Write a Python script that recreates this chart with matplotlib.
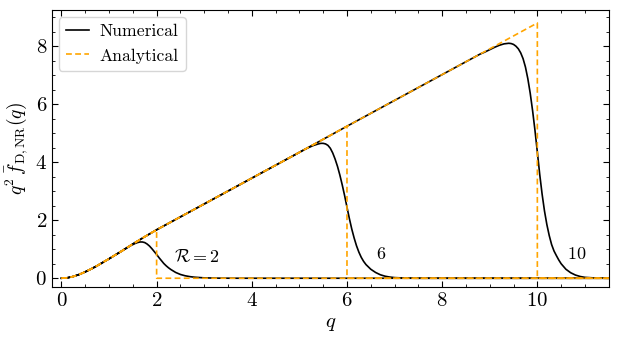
import numpy as np
import matplotlib
matplotlib.use("Agg")
import matplotlib.pyplot as plt
from matplotlib.ticker import MultipleLocator

plt.rcParams["font.family"] = "serif"
plt.rcParams["font.serif"] = ["cmr10", "DejaVu Serif"]
plt.rcParams["mathtext.fontset"] = "cm"
plt.rcParams["axes.formatter.use_mathtext"] = True
plt.rcParams["font.size"] = 15

# analytical envelope (shared rise)
env_q = [0.0, 0.125, 0.25, 0.375, 0.5, 0.625, 0.75, 0.875, 1.0, 1.25, 1.5, 1.75, 2.0,
         4.0, 5.0, 6.0, 8.0, 8.8, 10.0]
env_v = [0.0, 0.015, 0.06, 0.13, 0.22, 0.32, 0.43, 0.55, 0.67, 0.92, 1.18, 1.43, 1.67,
         3.45, 4.34, 5.24, 7.02, 7.73, 8.8]

radii = [2, 6, 10]
radius_labels = [r"$\mathcal{R} = 2$", r"$6$", r"$10$"]
label_q = [2.37, 6.6, 10.62]
label_v = [0.75, 0.83, 0.83]

# numerical curves: departure from envelope and fall-off
tail_q = {
    2: [1.3, 1.4, 1.45, 1.5, 1.55, 1.6, 1.65, 1.7, 1.75, 1.8, 1.85, 1.9, 1.95, 2.0, 2.05,
        2.1, 2.15, 2.2, 2.25, 2.3, 2.4, 2.5, 2.6, 2.7, 2.8, 3.0, 3.3, 3.7, 11.5],
    6: [5.1, 5.2, 5.3, 5.4, 5.45, 5.5, 5.55, 5.6, 5.65, 5.7, 5.75, 5.8, 5.85, 5.9, 5.95,
        6.0, 6.05, 6.1, 6.15, 6.2, 6.25, 6.3, 6.35, 6.4, 6.5, 6.6, 6.7, 6.8, 6.9, 7.0,
        7.2, 7.5, 11.5],
    10: [8.9, 9.0, 9.1, 9.2, 9.3, 9.4, 9.45, 9.5, 9.55, 9.6, 9.65, 9.7, 9.75, 9.8, 9.85,
         9.9, 9.95, 10.0, 10.05, 10.1, 10.15, 10.2, 10.25, 10.3, 10.35, 10.4, 10.45, 10.5,
         10.6, 10.7, 10.8, 10.9, 11.0, 11.2, 11.5],
}
tail_v = {
    2: [0.97, 1.07, 1.12, 1.16, 1.20, 1.23, 1.25, 1.25, 1.23, 1.18, 1.11, 1.02, 0.92,
        0.82, 0.71, 0.61, 0.51, 0.43, 0.36, 0.30, 0.20, 0.13, 0.085, 0.055, 0.035, 0.013,
        0.003, 0.0, 0.0],
    6: [4.43, 4.51, 4.58, 4.63, 4.65, 4.65, 4.63, 4.58, 4.48, 4.32, 4.11, 3.86, 3.56,
        3.22, 2.85, 2.45, 2.06, 1.70, 1.39, 1.12, 0.90, 0.72, 0.58, 0.47, 0.31, 0.20,
        0.12, 0.07, 0.04, 0.022, 0.007, 0.0, 0.0],
    10: [7.80, 7.88, 7.96, 8.03, 8.08, 8.10, 8.09, 8.06, 8.00, 7.91, 7.77, 7.57, 7.28,
         6.88, 6.38, 5.78, 5.10, 4.35, 3.58, 2.90, 2.32, 1.85, 1.47, 1.16, 0.94, 0.78,
         0.63, 0.50, 0.31, 0.19, 0.11, 0.06, 0.03, 0.01, 0.0],
}

q_max = 11.5

fig = plt.figure(figsize=(6.18, 3.42), dpi=100)
ax = fig.add_axes([0.084, 0.161, 0.901, 0.81])

env_q_arr = np.array(env_q)
env_v_arr = np.array(env_v)

for i, R in enumerate(radii):
    keep = env_q_arr < tail_q[R][0]
    qn = np.concatenate([env_q_arr[keep], tail_q[R]])
    vn = np.concatenate([env_v_arr[keep], tail_v[R]])
    ax.plot(qn, vn, color="black", lw=1.2, label="Numerical" if i == 0 else None, zorder=2)

    keep_a = env_q_arr <= R
    qa = np.concatenate([env_q_arr[keep_a], [R, q_max]])
    va = np.concatenate([env_v_arr[keep_a], [0.0, 0.0]])
    ax.plot(qa, va, color="#FFA500", lw=1.2, ls=(0, (3.5, 2)),
            label="Analytical" if i == 0 else None, zorder=3)

    ax.text(label_q[i], label_v[i], radius_labels[i], ha="left", va="center", fontsize=13)

ax.set_xlim(-0.2, q_max)
ax.set_ylim(-0.3, 9.25)
ax.xaxis.set_major_locator(MultipleLocator(2))
ax.xaxis.set_minor_locator(MultipleLocator(0.5))
ax.yaxis.set_major_locator(MultipleLocator(2))
ax.yaxis.set_minor_locator(MultipleLocator(0.5))
ax.tick_params(which="both", direction="in", top=True, right=True)
ax.tick_params(which="major", length=4)
ax.tick_params(which="minor", length=2)

ax.set_xlabel(r"$q$")
ax.set_ylabel(r"$q^2\,\bar{f}_{\mathrm{D,NR}}(q)$", fontsize=14)
ax.legend(loc="upper left", fontsize=12.7, handlelength=1.3, handletextpad=0.6,
          borderaxespad=0.4)

fig.savefig("out.png", dpi=100)
